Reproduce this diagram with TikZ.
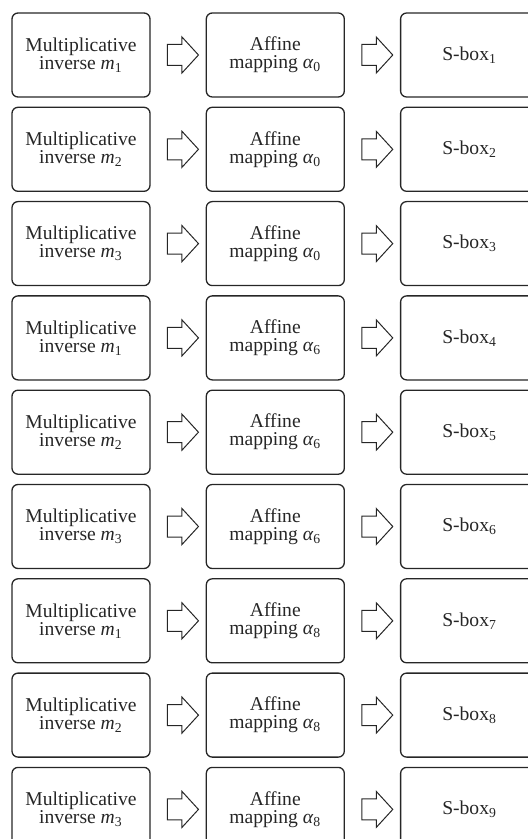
\documentclass[tikz,border=0pt]{standalone}
\usepackage{fontspec}
\setmainfont{Liberation Serif}
\usepackage{tikz}
\usetikzlibrary{shapes.arrows, positioning, calc}

\begin{document}
\begin{tikzpicture}[
  % --- styles ------------------------------------------------------------
  box/.style={
    rectangle, draw=black!85, line width=0.65pt, rounded corners=3pt,
    minimum width=69pt, minimum height=42pt, inner sep=1pt,
    font=\fontsize{9.8pt}{9pt}\selectfont, align=center, text=black!85
  },
  blk/.style={
    single arrow, draw=black!85, line width=0.5pt,
    inner xsep=0pt, inner ysep=5pt,
    minimum height=15.5pt,
    single arrow head extend=3.75pt, single arrow tip angle=95
  },
  node distance = 4.5pt and 27.5pt
]
\useasboundingbox (0,0) rectangle (264pt,-419.5pt);

% --------------------- row 1 --------------------------------------------
\node[box] (inv1) at (40.5pt,-27.5pt) {Multiplicative\\inverse \textit{m}\textsubscript{1}};
\node[box, right=of inv1] (aff1) {Affine\\mapping \textit{α}\textsubscript{0}};
\node[box, right=of aff1] (sbox1) {S-box\textsubscript{1}};

% --------------------- row 2 --------------------------------------------
\node[box, below=of inv1] (inv2) {Multiplicative\\inverse \textit{m}\textsubscript{2}};
\node[box, right=of inv2] (aff2) {Affine\\mapping \textit{α}\textsubscript{0}};
\node[box, right=of aff2] (sbox2) {S-box\textsubscript{2}};

% --------------------- row 3 --------------------------------------------
\node[box, below=of inv2] (inv3) {Multiplicative\\inverse \textit{m}\textsubscript{3}};
\node[box, right=of inv3] (aff3) {Affine\\mapping \textit{α}\textsubscript{0}};
\node[box, right=of aff3] (sbox3) {S-box\textsubscript{3}};

% --------------------- row 4 --------------------------------------------
\node[box, below=of inv3] (inv4) {Multiplicative\\inverse \textit{m}\textsubscript{1}};
\node[box, right=of inv4] (aff4) {Affine\\mapping \textit{α}\textsubscript{6}};
\node[box, right=of aff4] (sbox4) {S-box\textsubscript{4}};

% --------------------- row 5 --------------------------------------------
\node[box, below=of inv4] (inv5) {Multiplicative\\inverse \textit{m}\textsubscript{2}};
\node[box, right=of inv5] (aff5) {Affine\\mapping \textit{α}\textsubscript{6}};
\node[box, right=of aff5] (sbox5) {S-box\textsubscript{5}};

% --------------------- row 6 --------------------------------------------
\node[box, below=of inv5] (inv6) {Multiplicative\\inverse \textit{m}\textsubscript{3}};
\node[box, right=of inv6] (aff6) {Affine\\mapping \textit{α}\textsubscript{6}};
\node[box, right=of aff6] (sbox6) {S-box\textsubscript{6}};

% --------------------- row 7 --------------------------------------------
\node[box, below=of inv6] (inv7) {Multiplicative\\inverse \textit{m}\textsubscript{1}};
\node[box, right=of inv7] (aff7) {Affine\\mapping \textit{α}\textsubscript{8}};
\node[box, right=of aff7] (sbox7) {S-box\textsubscript{7}};

% --------------------- row 8 --------------------------------------------
\node[box, below=of inv7] (inv8) {Multiplicative\\inverse \textit{m}\textsubscript{2}};
\node[box, right=of inv8] (aff8) {Affine\\mapping \textit{α}\textsubscript{8}};
\node[box, right=of aff8] (sbox8) {S-box\textsubscript{8}};

% --------------------- row 9 --------------------------------------------
\node[box, below=of inv8] (inv9) {Multiplicative\\inverse \textit{m}\textsubscript{3}};
\node[box, right=of inv9] (aff9) {Affine\\mapping \textit{α}\textsubscript{8}};
\node[box, right=of aff9] (sbox9) {S-box\textsubscript{9}};

% --------------------- block arrows between the columns -----------------
\node[blk] (ia1) at ($(inv1.east)!0.5!(aff1.west)$) {};
\node[blk] (as1) at ($(aff1.east)!0.5!(sbox1.west)$) {};
\node[blk] (ia2) at ($(inv2.east)!0.5!(aff2.west)$) {};
\node[blk] (as2) at ($(aff2.east)!0.5!(sbox2.west)$) {};
\node[blk] (ia3) at ($(inv3.east)!0.5!(aff3.west)$) {};
\node[blk] (as3) at ($(aff3.east)!0.5!(sbox3.west)$) {};
\node[blk] (ia4) at ($(inv4.east)!0.5!(aff4.west)$) {};
\node[blk] (as4) at ($(aff4.east)!0.5!(sbox4.west)$) {};
\node[blk] (ia5) at ($(inv5.east)!0.5!(aff5.west)$) {};
\node[blk] (as5) at ($(aff5.east)!0.5!(sbox5.west)$) {};
\node[blk] (ia6) at ($(inv6.east)!0.5!(aff6.west)$) {};
\node[blk] (as6) at ($(aff6.east)!0.5!(sbox6.west)$) {};
\node[blk] (ia7) at ($(inv7.east)!0.5!(aff7.west)$) {};
\node[blk] (as7) at ($(aff7.east)!0.5!(sbox7.west)$) {};
\node[blk] (ia8) at ($(inv8.east)!0.5!(aff8.west)$) {};
\node[blk] (as8) at ($(aff8.east)!0.5!(sbox8.west)$) {};
\node[blk] (ia9) at ($(inv9.east)!0.5!(aff9.west)$) {};
\node[blk] (as9) at ($(aff9.east)!0.5!(sbox9.west)$) {};

\end{tikzpicture}
\end{document}
